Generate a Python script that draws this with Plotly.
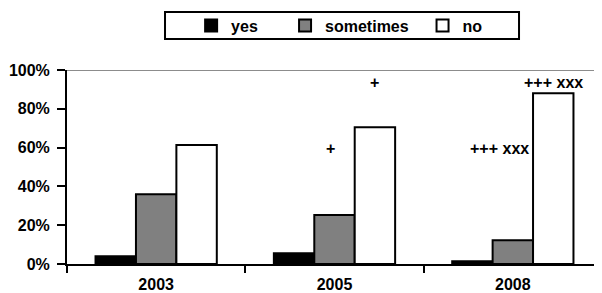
import plotly.graph_objects as go

years = ["2003", "2005", "2008"]
yes_vals = [0.04, 0.055, 0.014]
sometimes_vals = [0.36, 0.253, 0.122]
no_vals = [0.613, 0.705, 0.88]

ann_x = [0.975, 1.222, 1.923, 2.226]
ann_y = [0.593, 0.936, 0.593, 0.936]
ann_text = ["+", "+", "+++ xxx", "+++ xxx"]

y_ticks = [0, 0.2, 0.4, 0.6, 0.8, 1.0]
y_ticktext = ["0%", "20%", "40%", "60%", "80%", "100%"]

FAM = "Arial, Liberation Sans, sans-serif"
font = dict(family=FAM, size=16, color="black")
line = dict(color="black", width=2)
NB = "\u00a0"

fig = go.Figure()
fig.add_trace(go.Bar(name="<b>yes</b>" + NB * 5, x=years, y=yes_vals,
                     marker=dict(color="black", line=line)))
fig.add_trace(go.Bar(name="<b>sometimes</b>" + NB * 2, x=years, y=sometimes_vals,
                     marker=dict(color="#808080", line=line)))
fig.add_trace(go.Bar(name="<b>no</b>", x=years, y=no_vals,
                     marker=dict(color="white", line=line)))

for x, y, t in zip(ann_x, ann_y, ann_text):
    fig.add_annotation(x=x, y=y, xref="x", yref="y", text=f"<b>{t}</b>",
                       showarrow=False, font=font)

# top grey line at 100%
fig.add_shape(type="line", xref="paper", yref="y", x0=0, x1=1, y0=1, y1=1,
              line=dict(color="#8c8c8c", width=2), layer="below")
# legend frame
fig.add_shape(type="rect", xref="paper", yref="paper", x0=0.1832, x1=0.8449,
              y0=1.160, y1=1.299, line=dict(color="black", width=2))

fig.update_layout(
    width=594, height=285,
    margin=dict(l=59, r=0, t=62, b=29),
    paper_bgcolor="white", plot_bgcolor="white",
    barmode="group", bargap=0.32, bargroupgap=0,
    font=font,
    showlegend=True,
    legend=dict(orientation="h", x=0.232, xanchor="left", y=1.229, yanchor="middle",
                borderwidth=0, bgcolor="rgba(0,0,0,0)", font=font,
                itemwidth=30, traceorder="normal"),
    xaxis=dict(showline=True, linecolor="black", linewidth=2, ticks="outside",
               tickson="boundaries", ticklen=7, tickcolor="black", tickwidth=2,
               showgrid=False, tickfont=font, range=[-0.5, 2.5], ticklabelstandoff=5,
               tickvals=years, ticktext=[f"<b>{y}</b>" for y in years]),
    yaxis=dict(range=[0, 1], tickvals=y_ticks, ticktext=[f"<b>{t}</b>" for t in y_ticktext],
               showline=True, linecolor="black", linewidth=2, ticks="outside", ticklen=8,
               tickcolor="black", tickwidth=2, showgrid=False, zeroline=False, tickfont=font,
               ticklabelstandoff=4),
)

fig.write_html("out.html")
